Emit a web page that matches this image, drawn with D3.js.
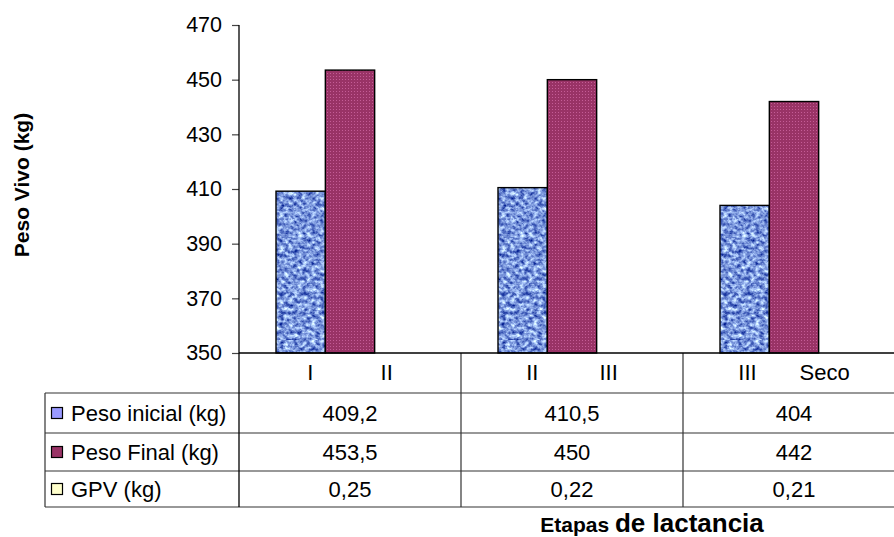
<!DOCTYPE html>
<html>
<head>
<meta charset="utf-8">
<script src="https://cdn.jsdelivr.net/npm/d3@7"></script>
<style>
  html, body { margin: 0; padding: 0; background: #fff; }
  svg { display: block; font-family: "Liberation Sans", Arial, sans-serif; }
</style>
</head>
<body>
<svg id="chart" width="894" height="537"></svg>
<script>
// Stage labels (the two stages per group are written as one spaced string)
const categories = ["I           II", "II          III", "III       Seco"];
const seriesNames = ["Peso inicial (kg)", "Peso Final (kg)", "GPV (kg)"];
const pesoInicial = [409.2, 410.5, 404];
const pesoFinal = [453.5, 450, 442];
const gpv = [0.25, 0.22, 0.21];
const yTicks = [350, 370, 390, 410, 430, 450, 470];

const seriesValues = [pesoInicial, pesoFinal, gpv];
const seriesFill = ["url(#weave)", "url(#dots)", "#ffffcc"];
const keyFill = ["#9999ff", "#993366", "#ffffcc"];

const svg = d3.select("#chart");
const defs = svg.append("defs");

// Woven blue texture for the first series
const weaveFilter = defs.append("filter").attr("id", "weaveNoise")
  .attr("x", 0).attr("y", 0).attr("width", 1).attr("height", 1)
  .attr("filterUnits", "objectBoundingBox")
  .attr("color-interpolation-filters", "sRGB");
weaveFilter.append("feTurbulence")
  .attr("type", "fractalNoise").attr("baseFrequency", "0.22 0.26")
  .attr("numOctaves", 3).attr("seed", 7).attr("result", "n");
weaveFilter.append("feColorMatrix").attr("in", "n").attr("type", "matrix")
  .attr("values",
    "1.3 0 0 0 -0.17 " +
    "1.3 0 0 0 -0.06 " +
    "0.8 0 0 0 0.46 " +
    "0 0 0 0 1");
const weave = defs.append("pattern").attr("id", "weave")
  .attr("patternUnits", "userSpaceOnUse").attr("width", 240).attr("height", 340);
weave.append("rect").attr("width", 240).attr("height", 340)
  .attr("fill", "#7894d8").attr("filter", "url(#weaveNoise)");

// Dotted maroon texture for the second series
const dots = defs.append("pattern").attr("id", "dots")
  .attr("patternUnits", "userSpaceOnUse").attr("width", 3).attr("height", 3);
dots.append("rect").attr("width", 3).attr("height", 3).attr("fill", "#993366");
dots.append("rect").attr("x", 1).attr("y", 1).attr("width", 1).attr("height", 1)
  .attr("fill", "#c45c96");

// Scales
const x = d3.scaleBand().domain(categories).range([239, 905]);
const bw = x.bandwidth();
const barW = bw / 4.5;
const xSub = d3.scaleBand().domain(seriesNames)
  .range([barW * 0.75, bw - barW * 0.75]);
const y = d3.scaleLinear().domain([350, 470]).range([353, 25]).clamp(true);

// Y axis
const yAxis = svg.append("g").attr("transform", "translate(239,0)")
  .call(d3.axisLeft(y).tickValues(yTicks).tickSize(7).tickPadding(10)
    .tickFormat(d3.format("d")));
yAxis.select(".domain").remove();
yAxis.selectAll(".tick line").attr("stroke", "#444").attr("stroke-width", 1.2);
yAxis.selectAll(".tick text").attr("font-size", 21.5).attr("fill", "#000")
  .attr("font-family", "Liberation Sans, Arial, sans-serif");

// Bars
const groups = svg.append("g").selectAll("g").data(categories).join("g")
  .attr("transform", d => `translate(${x(d)},0)`);
groups.selectAll("rect")
  .data((d, i) => seriesNames.map((s, j) => ({ s, j, v: seriesValues[j][i] })))
  .join("rect")
  .attr("x", d => xSub(d.s))
  .attr("width", xSub.bandwidth())
  .attr("y", d => y(d.v))
  .attr("height", d => y(350) - y(d.v))
  .attr("fill", d => seriesFill[d.j])
  .attr("stroke", "#000").attr("stroke-width", 1.4);

// Data table below the plot
const fmt = d3.formatLocale({ decimal: ",", thousands: ".", grouping: [3], currency: ["", ""] }).format("~f");
const rowTops = [393, 433, 471];
const rowBottoms = [433, 471, 507];
const lineColor = "#333";
const fs = 22;

const table = svg.append("g");
// header row: category labels
table.selectAll("text.cat").data(categories).join("text")
  .attr("class", "cat")
  .attr("x", d => x(d) + bw / 2).attr("y", 379.5)
  .attr("text-anchor", "middle").attr("font-size", fs)
  .style("white-space", "pre").text(d => d);

// horizontal rules
[393, 433, 471, 507].forEach(v => {
  table.append("line").attr("x1", 45).attr("x2", 894).attr("y1", v).attr("y2", v)
    .attr("stroke", lineColor).attr("stroke-width", 1.2);
});
// left border of the legend column
table.append("line").attr("x1", 45).attr("x2", 45).attr("y1", 393).attr("y2", 507)
  .attr("stroke", lineColor).attr("stroke-width", 1.2);
// column dividers at band edges
categories.slice(1).forEach(c => {
  table.append("line").attr("x1", x(c)).attr("x2", x(c)).attr("y1", 353).attr("y2", 507)
    .attr("stroke", lineColor).attr("stroke-width", 1.2);
});

seriesNames.forEach((s, j) => {
  const cy = (rowTops[j] + rowBottoms[j]) / 2;
  table.append("rect").attr("x", 51.5).attr("y", cy - 5.5).attr("width", 11).attr("height", 11)
    .attr("fill", keyFill[j]).attr("stroke", "#000").attr("stroke-width", 1.2);
  table.append("text").attr("x", 71).attr("y", cy + 8).attr("font-size", fs).text(s);
  categories.forEach((c, i) => {
    table.append("text").attr("x", x(c) + bw / 2).attr("y", cy + 8)
      .attr("text-anchor", "middle").attr("font-size", fs)
      .text(fmt(seriesValues[j][i]));
  });
});

// Axis lines
svg.append("line").attr("x1", 239).attr("x2", 239).attr("y1", 25).attr("y2", 507)
  .attr("stroke", "#000").attr("stroke-width", 1.3);
svg.append("line").attr("x1", 239).attr("x2", 894).attr("y1", 353).attr("y2", 353)
  .attr("stroke", "#000").attr("stroke-width", 1.3);

// Axis titles
svg.append("text").attr("transform", "translate(29,185) rotate(-90)")
  .attr("text-anchor", "middle").attr("font-size", 21).attr("font-weight", "bold")
  .text("Peso Vivo (kg)");
const xt = svg.append("text").attr("x", 652).attr("y", 532)
  .attr("text-anchor", "middle").attr("font-weight", "bold");
xt.append("tspan").attr("font-size", 21).text("Etapas ");
xt.append("tspan").attr("font-size", 26).text("de lactancia");
</script>
</body>
</html>
